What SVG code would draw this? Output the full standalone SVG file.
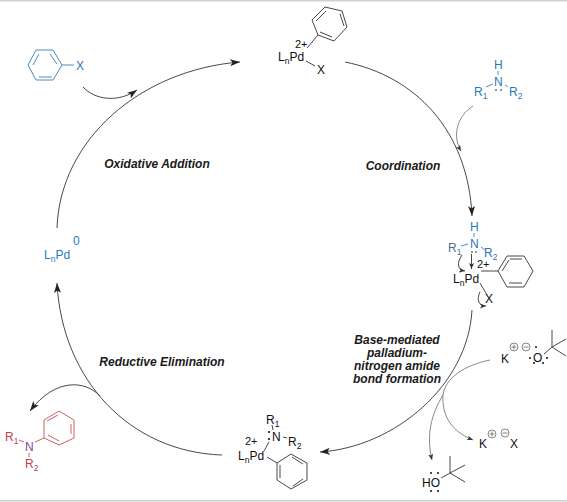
<svg xmlns="http://www.w3.org/2000/svg" width="567" height="502" viewBox="0 0 567 502">
<defs>
<marker id="ah" markerWidth="12" markerHeight="8" refX="10" refY="3.5" orient="auto" markerUnits="userSpaceOnUse"><path d="M0,0 L10,3.5 L0,7 L2.5,3.5 Z" fill="#222"/></marker>
<marker id="ag" markerWidth="8" markerHeight="6" refX="6" refY="2.5" orient="auto" markerUnits="userSpaceOnUse"><path d="M0,0 L6,2.5 L0,5 L1.5,2.5 Z" fill="#333"/></marker>
</defs>
<style>
text{font-family:"Liberation Sans",Arial,sans-serif;font-size:12px;fill:#111}
.sub{font-size:8.5px}
.lab{font-weight:bold;font-style:italic;font-size:12px;text-anchor:middle;fill:#1a1a1a}
.b{fill:#2a78b8}
.r{fill:#c0414e}
.chgt{font-size:11px}
.bond{fill:none;stroke:#333;stroke-width:.9}
.bb{fill:none;stroke:#3a7fba;stroke-width:.9}
.br{fill:none;stroke:#cf6069;stroke-width:1}
.arc{fill:none;stroke:#333;stroke-width:.9;marker-end:url(#ah)}
.thin{fill:none;stroke:#888;stroke-width:1;marker-end:url(#ag)}
.dot{fill:#111}
.chg{fill:none;stroke:#777;stroke-width:.9}
</style>
<rect x="0" y="0" width="567" height="1.5" fill="#d0d0d0"/>
<rect x="0" y="500" width="567" height="1.5" fill="#d0d0d0"/>

<g id="connectors">
<path class="arc" d="M345,62 C415,76 468,130 472,216"/>
<path class="arc" d="M472,310 C468,385 395,447 320,452"/>
<path class="arc" d="M222,455 C130,452 62,380 57,283"/>
<path class="arc" d="M57,228 C60,140 140,70 240,62"/>
<path class="arc" d="M83,87 C95,100 118,103 137,90"/>
<path class="thin" d="M473,106 C457,116 452,136 461,151"/>
<path class="thin" d="M490,360 C465,365 445,378 443,395 C442,412 448,430 473,440"/>
<path class="thin" d="M443,395 C431,415 426,435 432,460"/>
<path class="arc" d="M100,396 C85,380 55,378 30,411"/>
</g>

<g id="aryl-halide">
<path class="bb" d="M28,65 L36,50 L53,50 L62,65 L53,80 L36,80 Z M33,65 L39,54 M50,54 L57,64 M39,77 L52,77"/>
<path class="bb" d="M62,65 L74,65"/>
<text class="b" x="76" y="70">X</text>
</g>

<g id="pd-aryl-x">
<path class="bond" d="M312,20 L325,7 L342,11 L347,27 L334,41 L318,35 Z M316,21 L326,11 M340,14 L344,26 M320,32 L332,37 M318,35 L307,48 M306,61 L315,66"/>
<text class="chgt" x="295" y="48">2+</text>
<text x="278" y="61">L<tspan class="sub" dy="3">n</tspan><tspan dy="-3">Pd</tspan></text>
<text x="317" y="74">X</text>
</g>

<g id="amine">
<text class="b" x="494" y="69">H</text>
<text class="b" x="494" y="86">N</text>
<text class="b" x="474" y="96">R<tspan class="sub" dy="3">1</tspan></text>
<text class="b" x="509" y="96">R<tspan class="sub" dy="3">2</tspan></text>
<path class="bb" d="M498,71 L498,75 M486,87 L493,84 M505,85 L508,87"/>
<circle class="dot" cx="496" cy="90" r=".8"/><circle class="dot" cx="501" cy="90" r=".8"/>
</g>

<g id="pd-amine">
<text class="b" x="470" y="231">H</text>
<text class="b" x="470" y="248">N</text>
<text style="fill:#4a6f92" x="448" y="252">R<tspan class="sub" dy="3">1</tspan></text>
<text class="b" x="484" y="257">R<tspan class="sub" dy="3">2</tspan></text>
<path class="bb" d="M474,233 L474,237 M461,246 L468,244 M481,247 L485,250"/>
<circle class="dot" cx="472" cy="252" r=".8"/><circle class="dot" cx="476" cy="252" r=".8"/>
<path class="bond" d="M471.5,254 L471.5,269" marker-end="url(#ag)"/>
<path class="bond" d="M462,255 C456,264 458,270 465,271" marker-end="url(#ag)"/>
<text class="chgt" x="477" y="268">2+</text>
<text x="453" y="283">L<tspan class="sub" dy="3">n</tspan><tspan dy="-3">Pd</tspan></text>
<path class="bond" d="M498,271 L507,256 L524,256 L533,271 L524,287 L507,287 Z M502,271 L509,260 M510,259 L522,259 M522,283 L509,283 M481,271 L498,271 M480,283 L487,295"/>
<text x="485" y="303">X</text>
<path class="bond" d="M480,292 C476,300 479,306 486,306" marker-end="url(#ag)"/>
</g>

<g id="pd-amido">
<text x="266" y="424">R<tspan class="sub" dy="3">1</tspan></text>
<text x="272" y="441">N</text>
<text x="288" y="446">R<tspan class="sub" dy="3">2</tspan></text>
<text class="chgt" x="245" y="445">2+</text>
<text x="238" y="460">L<tspan class="sub" dy="3">n</tspan><tspan dy="-3">Pd</tspan></text>
<circle class="dot" cx="269" cy="432" r="1.1"/><circle class="dot" cx="269" cy="439" r="1.1"/>
<path class="bond" d="M272,425 L273,430 M283,437 L287,438 M269,442 L264,451 M267,457 L277,463"/>
<path class="bond" d="M277,463 L291,454 L307,463 L307,480 L291,489 L277,480 Z M292,457 L303,464 M303,479 L293,486 M280,465 L280,478"/>
</g>

<g id="product">
<text class="r" x="5" y="441">R<tspan class="sub" dy="3">1</tspan></text>
<text class="r" style="fill:#7a4a9a" x="25" y="451">N</text>
<text class="r" x="25" y="468">R<tspan class="sub" dy="3">2</tspan></text>
<path class="br" d="M19,440 L24,442 M29,453 L29,457 M35,442 L44,438"/>
<path class="br" d="M44,420 L59,411 L74,420 L74,438 L59,445 L44,438 Z M47,421 L58,415 M71,424 L71,434 M59,441 L48,435"/>
</g>

<g id="lnpd0">
<text class="b" x="44" y="259">L<tspan class="sub" dy="3">n</tspan><tspan dy="-3">Pd</tspan></text>
<text class="b" x="73" y="245">0</text>
</g>

<g id="base">
<text x="501" y="363">K</text>
<circle class="chg" cx="514" cy="347" r="4"/><path class="chg" d="M511.5,347 H516.5 M514,344.5 V349.5"/>
<circle class="chg" cx="526" cy="347" r="4"/><path class="chg" d="M523.5,347 H528.5"/>
<text x="533" y="362">O</text>
<circle class="dot" cx="536" cy="347" r="1"/><circle class="dot" cx="530" cy="358" r="1"/><circle class="dot" cx="534" cy="363" r="1"/><circle class="dot" cx="543" cy="363" r="1"/><circle class="dot" cx="547" cy="358" r="1"/>
<path class="bond" d="M544,354 L552,347 M552,330 L552,347 L566,339 M552,347 L566,356"/>
</g>

<g id="kx">
<text x="479" y="448">K</text>
<circle class="chg" cx="492" cy="434" r="4"/><path class="chg" d="M489.5,434 H494.5 M492,431.5 V436.5"/>
<circle class="chg" cx="505" cy="433" r="4"/><path class="chg" d="M502.5,433 H507.5"/>
<text x="510" y="448">X</text>
</g>

<g id="tbuoh">
<text x="422" y="487">HO</text>
<circle class="dot" cx="431" cy="473" r="1"/><circle class="dot" cx="438" cy="473" r="1"/><circle class="dot" cx="431" cy="491" r="1"/><circle class="dot" cx="438" cy="491" r="1"/>
<path class="bond" d="M441,478 L450,473 M450,456 L450,473 L465,465 M450,473 L465,482"/>
</g>

<g id="labels">
<text class="lab" x="157" y="168">Oxidative Addition</text>
<text class="lab" x="403" y="170">Coordination</text>
<text class="lab" x="162" y="366">Reductive Elimination</text>
<text class="lab" x="397" y="343.5">Base-mediated</text>
<text class="lab" x="397" y="356.5">palladium-</text>
<text class="lab" x="397" y="369.5">nitrogen amide</text>
<text class="lab" x="397" y="382.5">bond formation</text>
</g>
</svg>
